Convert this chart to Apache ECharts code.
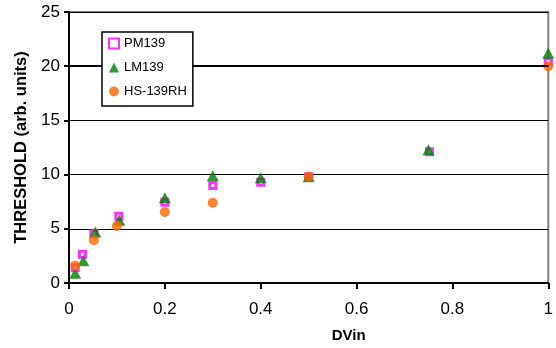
<!DOCTYPE html>
<html>
<head>
<meta charset="utf-8">
<script src="https://cdn.jsdelivr.net/npm/echarts@6/dist/echarts.min.js"></script>
<style>html,body{margin:0;padding:0;background:#fff}#c{width:556px;height:348px}</style>
</head>
<body>
<div id="c"></div>
<script>
var seriesNames = ['PM139', 'LM139', 'HS-139RH'];
var pmX = [0.013, 0.028, 0.052, 0.104, 0.2, 0.3, 0.4, 0.5, 0.752, 1.0];
var pmY = [1.4, 2.66, 4.56, 6.15, 7.46, 9.0, 9.3, 9.8, 12.1, 20.4];
var lmX = [0.013, 0.03, 0.055, 0.105, 0.2, 0.3, 0.4, 0.5, 0.75, 1.0];
var lmY = [0.9, 2.05, 4.7, 5.8, 7.86, 9.9, 9.7, 9.8, 12.3, 21.2];
var hsX = [0.013, 0.052, 0.1, 0.2, 0.3, 0.5, 1.0];
var hsY = [1.6, 3.95, 5.26, 6.55, 7.4, 9.8, 20.0];
var xTicks = [0, 0.2, 0.4, 0.6, 0.8, 1];
var yTicks = [0, 5, 10, 15, 20, 25];

function pairs(xs, ys) { return xs.map(function (x, i) { return [x, ys[i]]; }); }

var FONT = "'Liberation Sans', Arial, sans-serif";
var chart = echarts.init(document.getElementById('c'), null, { renderer: 'canvas' });
chart.setOption({
  animation: false,
  backgroundColor: '#ffffff',
  grid: { left: 69, right: 4, top: 12, bottom: 64, show: true, borderColor: '#808080', borderWidth: 2, backgroundColor: 'transparent' },
  legend: {
    z: 20,
    orient: 'vertical', left: 102, top: 32,
    backgroundColor: '#ffffff', borderColor: '#000', borderWidth: 1.5,
    padding: [5, 6, 8, 6], itemGap: 11, itemWidth: 10, itemHeight: 10,
    textStyle: { fontFamily: FONT, fontSize: 13, color: '#000' },
    data: [
      { name: seriesNames[0], icon: 'rect' },
      { name: seriesNames[1], icon: 'triangle' },
      { name: seriesNames[2], icon: 'circle' }
    ]
  },
  xAxis: {
    type: 'value', min: 0, max: 1, interval: 0.2,
    name: 'DVin', nameLocation: 'middle', nameGap: 45,
    nameTextStyle: { fontFamily: FONT, fontSize: 15, fontWeight: 'bold', color: '#000', padding: [0, 0, 0, 80] },
    axisLine: { show: true, onZero: false, lineStyle: { color: '#000', width: 2 } },
    axisTick: { show: true, inside: false, length: 6, lineStyle: { color: '#000', width: 2 } },
    axisLabel: { margin: 18, fontFamily: FONT, fontSize: 17, color: '#000',
      formatter: function (v) { var i = xTicks.indexOf(Math.round(v * 10) / 10); return i >= 0 ? String(xTicks[i]) : ''; } },
    splitLine: { show: false }
  },
  yAxis: {
    type: 'value', min: 0, max: 25, interval: 5,
    name: 'THRESHOLD (arb. units)', nameLocation: 'middle', nameGap: 39, nameRotate: 90,
    nameTextStyle: { fontFamily: FONT, fontSize: 16.5, fontWeight: 'bold', color: '#000' },
    axisLine: { show: true, lineStyle: { color: '#000', width: 2 } },
    axisTick: { show: true, inside: false, length: 5, lineStyle: { color: '#000', width: 2 } },
    axisLabel: { margin: 9, fontFamily: FONT, fontSize: 17, color: '#000',
      formatter: function (v) { return yTicks.indexOf(v) >= 0 ? String(v) : ''; } },
    splitLine: { show: true, lineStyle: { color: '#000', width: 1 } }
  },
  series: [
    { name: seriesNames[0], type: 'scatter', symbol: 'rect', symbolSize: 6,
      itemStyle: { color: '#ffffff', borderColor: '#ff00ff', borderWidth: 3 },
      data: pairs(pmX, pmY),
      markLine: { silent: true, symbol: 'none', label: { show: false },
        lineStyle: { color: '#000', width: 2, type: 'solid' }, data: [{ yAxis: 20 }] } },
    { name: seriesNames[1], type: 'scatter', symbol: 'triangle', symbolSize: [12, 11],
      itemStyle: { color: '#008000' }, data: pairs(lmX, lmY) },
    { name: seriesNames[2], type: 'scatter', symbol: 'circle', symbolSize: 10,
      itemStyle: { color: '#ff6600' }, data: pairs(hsX, hsY) }
  ]
});
</script>
</body>
</html>
